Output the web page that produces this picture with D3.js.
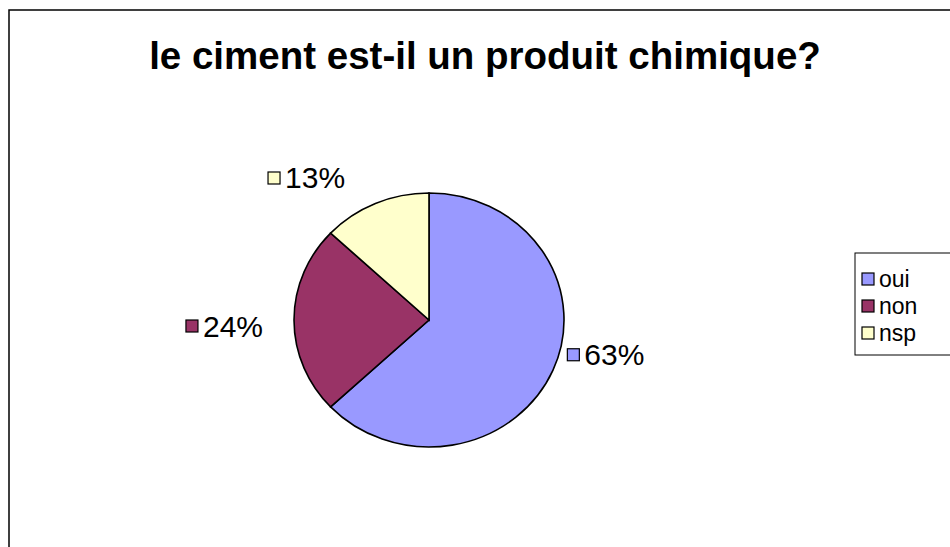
<!DOCTYPE html>
<html>
<head>
<meta charset="utf-8">
<script src="https://cdn.jsdelivr.net/npm/d3@7"></script>
<style>
  body { margin: 0; background: #fff; }
  svg { display: block; font-family: "Liberation Sans", Arial, sans-serif; }
</style>
</head>
<body>
<svg width="950" height="547"></svg>
<script>
// data
var title = "le ciment est-il un produit chimique?";
var categories = ["oui", "non", "nsp"];
var values = [63, 24, 13];
var colors = ["#9999FF", "#993366", "#FFFFCC"];

var svg = d3.select("svg");

// chart frame
svg.append("rect")
  .attr("x", 9).attr("y", 10)
  .attr("width", 960).attr("height", 560)
  .attr("fill", "#fff")
  .attr("stroke", "#000")
  .attr("stroke-width", 1.5);

svg.append("text")
  .attr("x", 485).attr("y", 69)
  .attr("text-anchor", "middle")
  .attr("font-size", 38.5)
  .attr("font-weight", "bold")
  .text(title);

// pie (slightly wider than tall, like the original)
var cx = 429, cy = 320, rx = 135, ry = 127;

var pie = d3.pie().sort(null).value(d => d)(values);
var arc = d3.arc().innerRadius(0).outerRadius(ry);

var g = svg.append("g")
  .attr("transform", "translate(" + cx + "," + cy + ") scale(" + (rx / ry) + ",1)");

g.selectAll("path")
  .data(pie)
  .enter()
  .append("path")
  .attr("d", arc)
  .attr("fill", (d, i) => colors[i])
  .attr("stroke", "#000")
  .attr("stroke-width", 1.6)
  .attr("vector-effect", "non-scaling-stroke");

// percentage labels outside the slices
var total = d3.sum(values);
var fmt = d => Math.round(d / total * 100) + "%";
var sw = 12, gap = 5, labelGap = 31;
var labelNudge = [[-14, -28], [0, 6], [-18, 3]];

var lab = svg.selectAll(".lab")
  .data(pie)
  .enter()
  .append("g")
  .attr("class", "lab");

lab.append("rect")
  .attr("x", 0).attr("y", -sw / 2)
  .attr("width", sw).attr("height", sw)
  .attr("fill", (d, i) => colors[i])
  .attr("stroke", "#000")
  .attr("stroke-width", 1.2);

lab.append("text")
  .attr("x", sw + gap).attr("y", 10.5)
  .attr("font-size", 30)
  .text(d => fmt(d.value));

lab.attr("transform", function (d, i) {
  var a = (d.startAngle + d.endAngle) / 2;
  var s = Math.sin(a), c = Math.cos(a);
  var w = sw + gap + d3.select(this).select("text").node().getComputedTextLength();
  var x = cx + s * (rx + labelGap) - (s < 0 ? w : 0) + labelNudge[i][0];
  var y = cy - c * (ry + labelGap) + labelNudge[i][1];
  return "translate(" + x + "," + y + ")";
});

// legend
var legend = svg.append("g").attr("transform", "translate(855,253)");
legend.append("rect")
  .attr("width", 110).attr("height", 102)
  .attr("fill", "#fff")
  .attr("stroke", "#000")
  .attr("stroke-width", 1);

var item = legend.selectAll(".item")
  .data(categories)
  .enter()
  .append("g")
  .attr("transform", (d, i) => "translate(7," + (26 + i * 27) + ")");

item.append("rect")
  .attr("x", 0).attr("y", -sw / 2)
  .attr("width", sw).attr("height", sw)
  .attr("fill", (d, i) => colors[i])
  .attr("stroke", "#000")
  .attr("stroke-width", 1.2);

item.append("text")
  .attr("x", sw + gap).attr("y", 8)
  .attr("font-size", 23)
  .text(d => d);
</script>
</body>
</html>
